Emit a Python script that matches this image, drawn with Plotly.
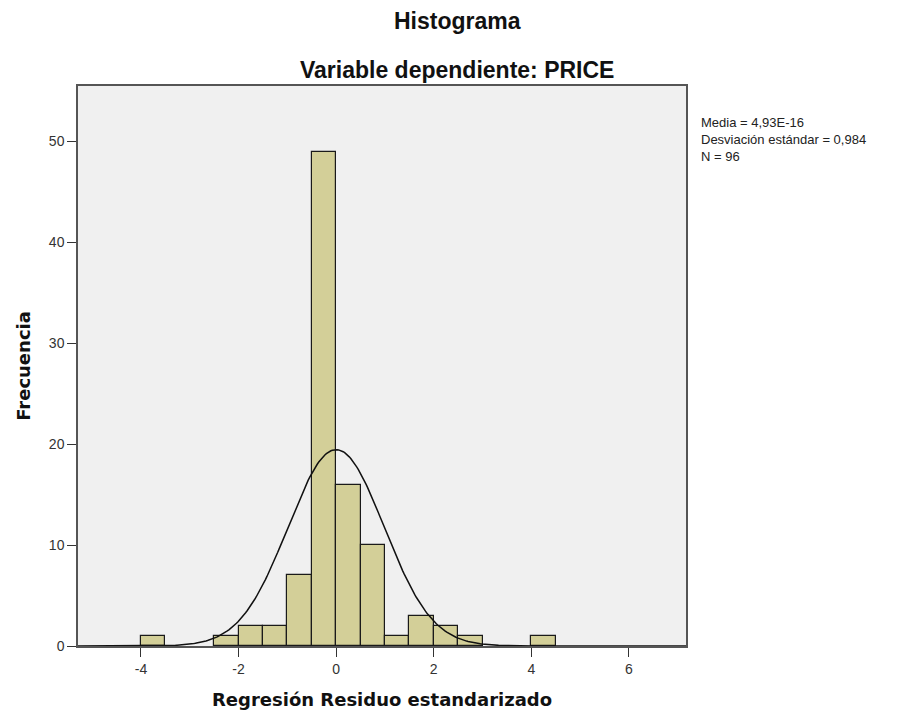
import numpy as np
import plotly.graph_objects as go

# Bin left edges (width 0.5) and counts
bin_left = [-4.0, -2.5, -2.0, -1.5, -1.0, -0.5, 0.0, 0.5, 1.0, 1.5, 2.0, 2.5, 4.0]
counts = [1, 1, 2, 2, 7, 49, 16, 10, 1, 3, 2, 1, 1]
bin_width = 0.5

mean_val = 4.93e-16
sd_val = 0.984
n_val = 96

x_ticks = [-4, -2, 0, 2, 4, 6]
y_ticks = [0, 10, 20, 30, 40, 50]

stats_lines = ["Media = 4,93E-16", "Desviación estándar = 0,984", "N = 96"]

centers = [b + bin_width / 2 for b in bin_left]

xr = [-5.29, 7.17]
yr = [0, 55.5]

xs = np.linspace(xr[0], xr[1], 400)
ys = n_val * bin_width / (sd_val * np.sqrt(2 * np.pi)) * np.exp(-0.5 * ((xs - mean_val) / sd_val) ** 2)

fig = go.Figure()
fig.add_trace(go.Bar(
    x=centers, y=counts, width=bin_width,
    marker=dict(color="#D3CF98", line=dict(color="#1a1a1a", width=1.2)),
    hoverinfo="skip",
))
fig.add_trace(go.Scatter(
    x=xs, y=ys, mode="lines",
    line=dict(color="#111111", width=1.5),
    hoverinfo="skip",
))

axis_font = dict(family="Liberation Sans, Arial", size=14, color="#333333")

L, R, T, B = 78, 228, 86, 72
PW, PH = 914 - L - R, 718 - T - B


def px(x):
    return (x - L) / PW


def py(y):
    return (718 - B - y) / PH


annotations = [
    dict(text="<b>Histograma</b>", xref="paper", yref="paper",
         x=px(457), y=py(21), xanchor="center", yanchor="middle",
         showarrow=False, font=dict(family="Liberation Sans, Arial", size=23, color="#111")),
    dict(text="<b>Variable dependiente: PRICE</b>", xref="paper", yref="paper",
         x=px(457), y=py(70), xanchor="center", yanchor="middle",
         showarrow=False, font=dict(family="Liberation Sans, Arial", size=23, color="#111")),
    dict(text="<br>".join(stats_lines), xref="paper", yref="paper",
         x=px(699), y=py(139), xanchor="left", yanchor="middle", align="left",
         showarrow=False, font=dict(family="Liberation Sans, Arial", size=13, color="#222")),
]

fig.update_layout(
    width=914, height=718,
    margin=dict(l=L, r=R, t=T, b=B),
    paper_bgcolor="white",
    plot_bgcolor="#F0F0F0",
    showlegend=False,
    bargap=0,
    xaxis=dict(
        range=xr, tickvals=x_ticks, ticktext=[str(v) for v in x_ticks],
        ticks="outside", ticklen=9, tickwidth=1.2, tickcolor="#333",
        showgrid=False, zeroline=False,
        showline=True, linecolor="#555", linewidth=1.5, mirror=True,
        tickfont=axis_font,
        title=dict(text="<b>Regresión Residuo estandarizado</b>",
                   font=dict(family="DejaVu Sans", size=18, color="#111"),
                   standoff=18),
    ),
    yaxis=dict(
        range=yr, tickvals=y_ticks, ticktext=[str(v) for v in y_ticks],
        ticks="outside", ticklen=9, tickwidth=1.2, tickcolor="#333",
        showgrid=False, zeroline=False,
        showline=True, linecolor="#555", linewidth=1.5, mirror=True,
        tickfont=axis_font,
        title=dict(text="<b>Frecuencia</b>",
                   font=dict(family="DejaVu Sans", size=18, color="#111"),
                   standoff=14),
    ),
    annotations=annotations,
)

fig.write_html("out.html")
